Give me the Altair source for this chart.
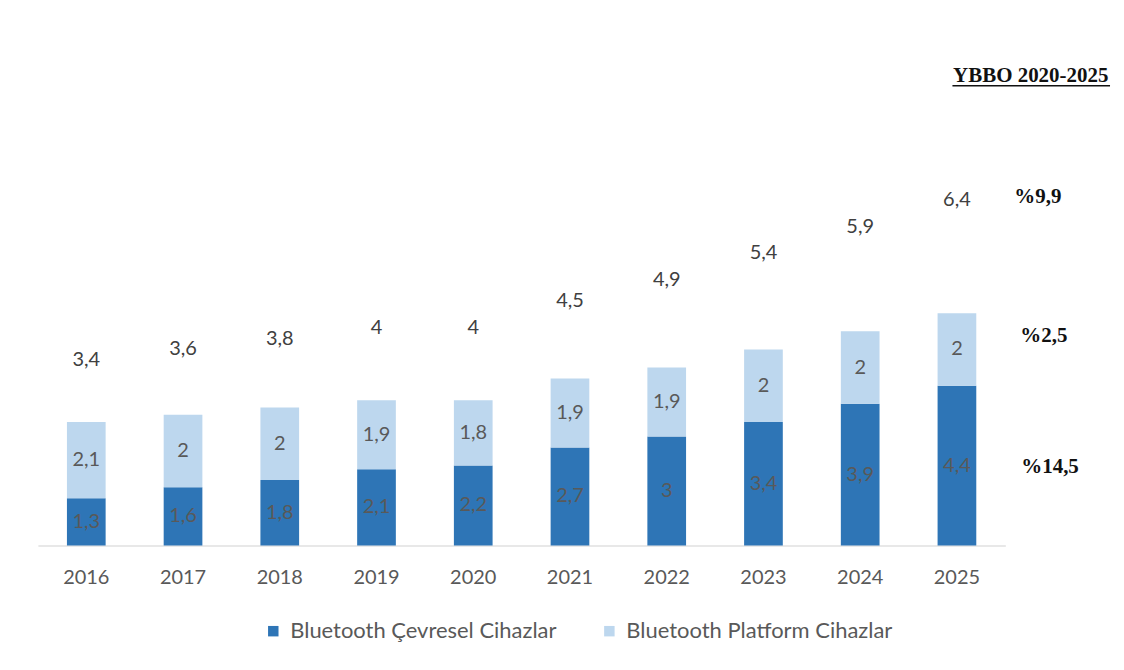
import altair as alt
import pandas as pd

years = ["2016", "2017", "2018", "2019", "2020", "2021", "2022", "2023", "2024", "2025"]
cevresel = [1.3, 1.6, 1.8, 2.1, 2.2, 2.7, 3.0, 3.4, 3.9, 4.4]
platform = [2.1, 2.0, 2.0, 1.9, 1.8, 1.9, 1.9, 2.0, 2.0, 2.0]
totals = [3.4, 3.6, 3.8, 4.0, 4.0, 4.5, 4.9, 5.4, 5.9, 6.4]
series = ["Bluetooth Çevresel Cihazlar", "Bluetooth Platform Cihazlar"]
colors = ["#2e75b6", "#bdd7ee"]
cagr_title = "YBBO 2020-2025"
cagr_labels = ["%9,9", "%2,5", "%14,5"]


def fmt(v):
    s = ("%.1f" % v).rstrip("0").rstrip(".")
    return s.replace(".", ",")


rows = []
for i, y in enumerate(years):
    rows.append({"year": y, "series": series[0], "value": cevresel[i], "ord": 0, "lab": fmt(cevresel[i])})
    rows.append({"year": y, "series": series[1], "value": platform[i], "ord": 1, "lab": fmt(platform[i])})
df = pd.DataFrame(rows)
tdf = pd.DataFrame({"year": years, "total": totals, "lab": [fmt(t) for t in totals]})

FONT = "Lato"
H = 496
xenc = alt.X("year:N", title=None, sort=years,
             scale=alt.Scale(paddingInner=0.6, paddingOuter=0.3),
             axis=alt.Axis(labelAngle=0, ticks=False, domainColor="#e0e0e0", domainWidth=1.5,
                           labelFont=FONT, labelFontSize=20, labelColor="#595959", labelPadding=22))

yscale = alt.Scale(domain=[0, 13.63], nice=False, zero=True)

base = alt.Chart(df)
bars = base.mark_bar().encode(
    x=xenc,
    y=alt.Y("value:Q", stack="zero", scale=yscale, axis=None),
    color=alt.Color("series:N", sort=series, scale=alt.Scale(domain=series, range=colors),
                    legend=alt.Legend(title=None, orient="none", direction="horizontal",
                                      legendX=225, legendY=571, symbolType="square",
                                      symbolSize=110, symbolStrokeWidth=0, labelLimit=0,
                                      labelFont=FONT, labelFontSize=22, labelColor="#595959",
                                      columnPadding=42, labelOffset=6)),
    order=alt.Order("ord:Q"),
)

seg_text = base.transform_stack(
    stack="value", groupby=["year"], as_=["v0", "v1"], sort=[alt.SortField("ord")]
).transform_calculate(mid="(datum.v0 + datum.v1) / 2").mark_text(
    font=FONT, fontSize=20, color="#595959", baseline="middle"
).encode(
    x=alt.X("year:N", sort=years),
    y=alt.Y("mid:Q", scale=yscale, axis=None),
    text="lab:N",
)

tot_text = alt.Chart(tdf).mark_text(
    font=FONT, fontSize=20, color="#404040", baseline="middle", dy=-5
).encode(
    x=alt.X("year:N", sort=years),
    y=alt.Y("total:Q", scale=alt.Scale(domain=[0, 9.31], nice=False), axis=None),
    text="lab:N",
)

ann = pd.DataFrame({"t": [cagr_title]})
title_text = alt.Chart(ann).mark_text(
    font="Liberation Serif", fontSize=21, fontWeight="bold", color="#111111",
    align="center", baseline="alphabetic"
).encode(x=alt.value(995.5), y=alt.value(31), text="t:N")
underline = alt.Chart(ann).mark_rule(color="#111111", strokeWidth=1.5).encode(
    x=alt.value(917), x2=alt.value(1075), y=alt.value(35)
)

cdf = pd.DataFrame({"t": cagr_labels, "pos": [147, 286, 417], "xp": [979, 985, 986]})
cagr_text = alt.Chart(cdf).mark_text(
    font="Liberation Serif", fontSize=21, fontWeight="bold", color="#111111",
    align="left", baseline="middle"
).encode(x=alt.X("xp:Q", scale=None), y=alt.Y("pos:Q", scale=None), text="t:N")

chart = alt.layer(bars, seg_text, tot_text, title_text, underline, cagr_text).resolve_scale(
    y="independent"
).properties(
    width=970, height=H, padding={"left": 30, "top": 42, "right": 5, "bottom": 5}
).configure_view(stroke=None)

chart.save("out.html", embed_options={"renderer": "svg", "actions": False})
